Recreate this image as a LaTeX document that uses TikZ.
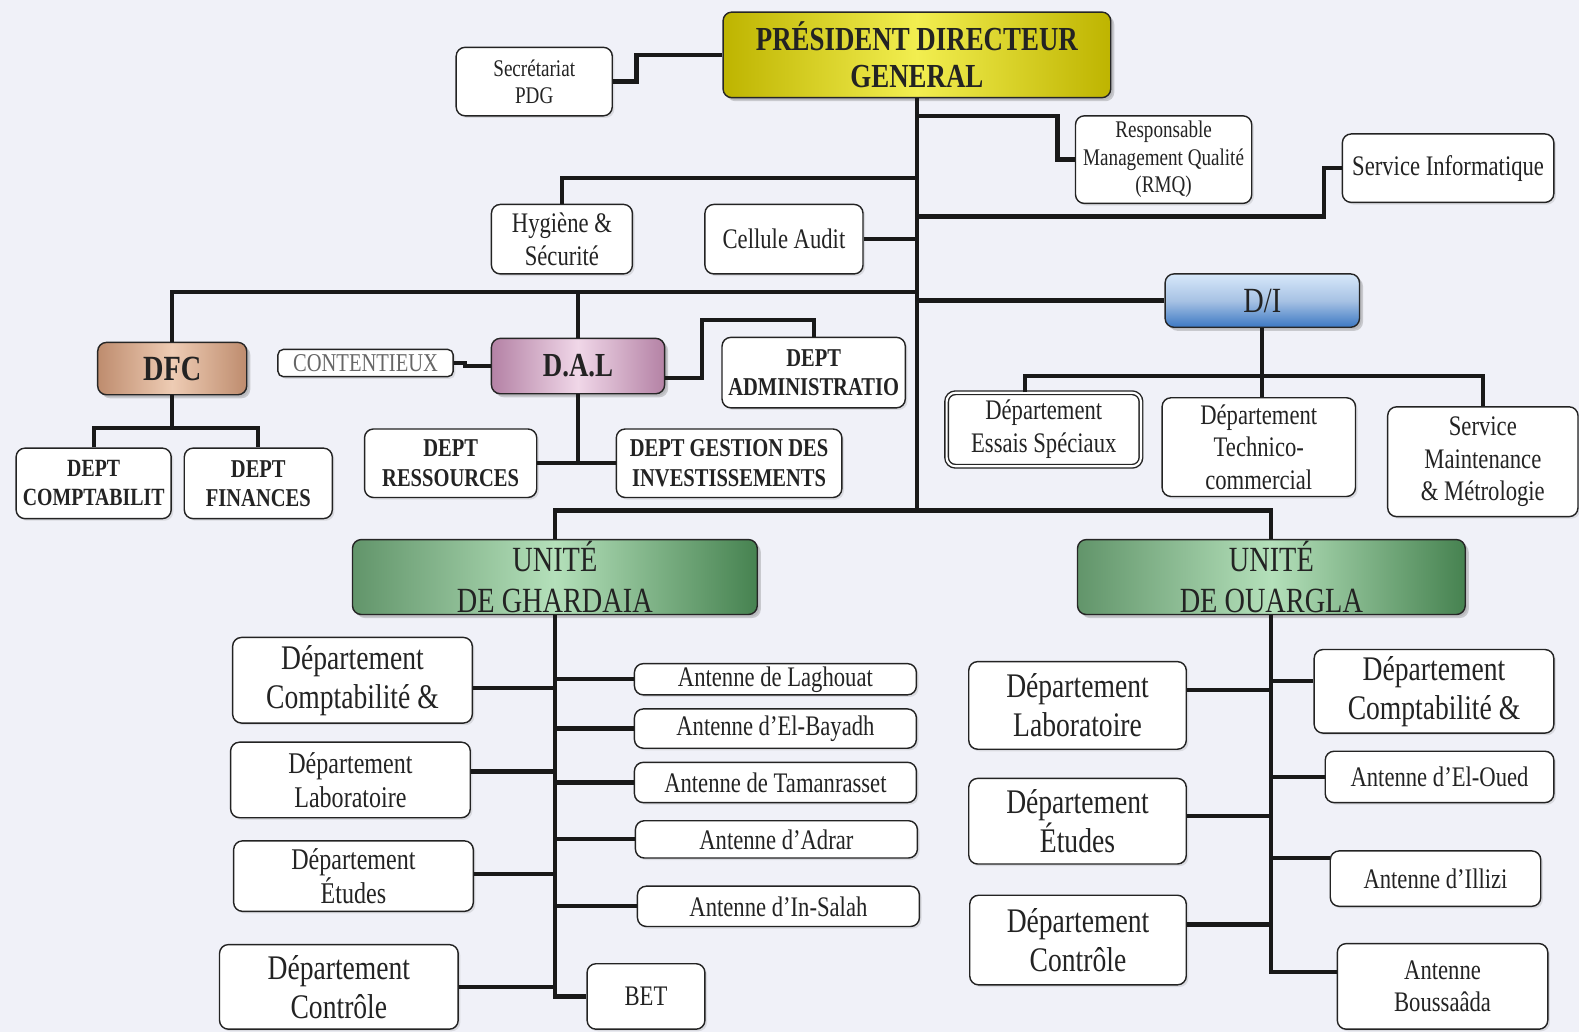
\documentclass[tikz,border=0pt]{standalone}
\usepackage{fontspec}
\setmainfont[FakeStretch=0.8]{Liberation Serif}
\usepackage{tikz}
\usetikzlibrary{shadows}
\definecolor{bg}{RGB}{240,241,248}
\definecolor{ink}{RGB}{35,35,35}
\definecolor{pdgdark}{RGB}{190,180,0}
\definecolor{pdglight}{RGB}{242,238,80}
\definecolor{dfcdark}{RGB}{190,140,110}
\definecolor{dfclight}{RGB}{238,204,180}
\definecolor{daldark}{RGB}{180,130,165}
\definecolor{dallight}{RGB}{240,215,232}
\definecolor{didark}{RGB}{60,120,195}
\definecolor{dilight}{RGB}{215,232,250}
\definecolor{undark}{RGB}{70,130,80}
\definecolor{unlight}{RGB}{180,224,186}
\tikzset{box/.style = {shape=rectangle, rounded corners=5pt, draw=ink, fill=white, line width=0.8pt, align=center, inner sep=1pt, text=ink, drop shadow={shadow xshift=1.2pt, shadow yshift=-1.2pt, opacity=0.2}}}
\tikzset{head/.style = {box, draw=black!85, drop shadow={shadow xshift=2pt, shadow yshift=-2pt, opacity=0.35}}}
\tikzset{edge/.style = {-, line width=2.4pt, black!90}}
\tikzset{wh/.style 2 args = {minimum width=#1*0.02cm, minimum height=#2*0.02cm}}
\tikzset{fa/.style = {font=\fontsize{13.5}{15.5}\selectfont}}
\tikzset{fb/.style = {font=\fontsize{16}{18.5}\selectfont}}
\tikzset{fc/.style = {font=\fontsize{17}{19}\selectfont}}
\tikzset{fd/.style = {font=\fontsize{19.5}{22}\selectfont}}
\tikzset{fe/.style = {font=\bfseries\fontsize{14.5}{16.5}\selectfont}}

\begin{document}
\begin{tikzpicture}[x=0.02cm, y=-0.02cm]
\useasboundingbox (0,0) rectangle (1568,1025);
\fill[bg] (0,0) rectangle (1568,1025);
% direction
\node[head, wh={385}{85}, left color=pdgdark, right color=pdgdark, middle color=pdglight, font=\bfseries\fontsize{19}{21}\selectfont] (pdg) at (910.5,54.5) {PRÉSIDENT DIRECTEUR\\GENERAL};
\node[box, wh={155}{68}, fa] (sec) at (530.5,81) {Secrétariat\\PDG};
\node[box, wh={175}{87}, fa] (rmq) at (1155.5,158.5) {Responsable\\Management Qualité\\(RMQ)};
\node[box, wh={210}{68}, fb] (si) at (1438,167) {Service Informatique};
\node[box, wh={140}{69}, fb] (hyg) at (558,237.5) {Hygiène \&\\Sécurité};
\node[box, wh={157}{69}, fb] (audit) at (778.5,237.5) {Cellule Audit};

% directions
\node[head, wh={148}{52}, left color=dfcdark, right color=dfcdark, middle color=dfclight, font=\bfseries\fontsize{20}{22}\selectfont] (dfc) at (171,366) {DFC};
\node[head, wh={172}{55}, left color=daldark, right color=daldark, middle color=dallight, font=\bfseries\fontsize{19}{22}\selectfont] (dal) at (574,363.5) {D.A.L};
\node[head, wh={193}{53}, top color=dilight, bottom color=didark, middle color=didark!45, font=\fontsize{20}{22}\selectfont] (di) at (1253.5,298.5) {D/I};
\node[box, wh={174}{27}, rounded corners=3pt, text=black!60, font=\fontsize{14.5}{16}\selectfont] (cont) at (363,360.5) {CONTENTIEUX};
\node[box, wh={182}{70}, fe] (adm) at (808,370) {DEPT\\ADMINISTRATIO};
\node[box, wh={171}{68}, fe] (res) at (447.5,460) {DEPT\\RESSOURCES};
\node[box, wh={224}{68}, fe] (gest) at (724,460) {DEPT GESTION DES\\INVESTISSEMENTS};
\node[box, wh={154}{70}, fe, font=\bfseries\fontsize{14}{16.5}\selectfont] (comp) at (93,480) {DEPT\\COMPTABILIT};
\node[box, wh={147}{70}, fe] (fin) at (256.5,480) {DEPT\\FINANCES};
\node[box, wh={193}{73}, fb, double, double distance=1.2pt] (ess) at (1036.5,426.5) {Département\\Essais Spéciaux};
\node[box, wh={192}{98}, fb] (tech) at (1250,444) {Département\\Technico-\\commercial};
\node[box, wh={189}{109}, fb] (maint) at (1472.5,458.5) {Service\\Maintenance\\\& Métrologie};

% unites
\node[head, wh={402}{74}, left color=undark!85, right color=undark, middle color=unlight, font=\fontsize{20}{23}\selectfont] (gh) at (551,573) {UNITÉ\\DE GHARDAIA};
\node[head, wh={385}{74}, left color=undark!85, right color=undark, middle color=unlight, font=\fontsize{20}{23}\selectfont] (oua) at (1262.5,573) {UNITÉ\\DE OUARGLA};

\node[box, wh={238}{85}, fd] (gcomp) at (350,675.5) {Département\\Comptabilité \&};
\node[box, wh={238}{75}, fc] (glab) at (348,774.5) {Département\\Laboratoire};
\node[box, wh={238}{70}, fc] (getu) at (351,870) {Département\\Études};
\node[box, wh={237}{84}, fd] (gctl) at (336.5,980) {Département\\Contrôle};
\node[box, wh={280}{31}, fb] (alag) at (770,674.5) {Antenne de Laghouat};
\node[box, wh={280}{39}, fb] (abay) at (770,723.5) {Antenne d'El-Bayadh};
\node[box, wh={280}{40}, fb] (atam) at (770,777) {Antenne de Tamanrasset};
\node[box, wh={280}{37}, fb] (aadr) at (771,833.5) {Antenne d'Adrar};
\node[box, wh={280}{40}, fb] (ains) at (773,900) {Antenne d'In-Salah};
\node[box, wh={117}{65}, fb] (bet) at (641.5,989.5) {BET};

\node[box, wh={216}{87}, fd] (olab) at (1070,700.5) {Département\\Laboratoire};
\node[box, wh={216}{85}, fd] (oetu) at (1070,815.5) {Département\\Études};
\node[box, wh={215}{89}, fd] (octl) at (1070.5,933.5) {Département\\Contrôle};
\node[box, wh={238}{83}, fd] (ocomp) at (1424,686.5) {Département\\Comptabilité \&};
\node[box, wh={227}{51}, fb] (aoued) at (1429.5,771.5) {Antenne d'El-Oued};
\node[box, wh={209}{55}, fb] (aill) at (1425.5,872.5) {Antenne d'Illizi};
\node[box, wh={209}{85}, fb] (abou) at (1432.5,979.5) {Antenne\\Boussaâda};

% liaisons
\coordinate (hub) at (910.5,507);
\draw[edge] (pdg.west) -- (632,54.5) |- (sec.east);
\draw[edge] (pdg.south) -- (hub);
\draw[edge] (gh.north) |- (hub) -| (oua.north);
\draw[edge] (pdg.south |- 0,115) -- (1050,115) |- (rmq.west);
\draw[edge] (pdg.south |- 0,215) -- (1315,215) |- (si.west);
\draw[edge] (pdg.south |- 0,177) -| (hyg.north);
\draw[edge] (audit.east) -- (audit.east -| pdg.south);
\draw[edge] (pdg.south |- 0,290) -| (dfc.north);
\draw[edge] (dal.north) -- (dal.north |- 0,290);
\draw[edge] (di.west) -- (di.west -| pdg.south);

\draw[edge] (dfc.south) -- (dfc.south |- 0,425);
\draw[edge] (comp.north) |- (dfc.south |- 0,425) -| (fin.north);
\draw[edge] (cont.east) -- (462,360.5) |- (dal.west);
\draw[edge] (dal.east |- 0,375) -| (697,318) -| (adm.north);
\draw[edge] (dal.south) -- (dal.south |- res.east);
\draw[edge] (res.east) -- (gest.west);
\draw[edge] (di.south) -- (di.south |- tech.north);
\draw[edge] (1018,0 |- ess.north) |- (di.south |- 0,373) -| (maint.north);

\draw[edge] (gh.south) |- (bet.west);
\draw[edge] (gcomp.east |- 0,683) -- (gh.south |- 0,683);
\draw[edge] (glab.east |- 0,766) -- (gh.south |- 0,766);
\draw[edge] (getu.east |- 0,868) -- (gh.south |- 0,868);
\draw[edge] (gctl.east |- 0,980) -- (gh.south |- 0,980);
\draw[edge] (gh.south |- alag.west) -- (alag.west);
\draw[edge] (gh.south |- abay.west) -- (abay.west);
\draw[edge] (gh.south |- atam.west) -- (atam.west);
\draw[edge] (gh.south |- aadr.west) -- (aadr.west);
\draw[edge] (gh.south |- ains.west) -- (ains.west);

\draw[edge] (oua.south) -- (oua.south |- 0,965) -- (abou.west |- 0,965);
\draw[edge] (olab.east |- 0,685) -- (oua.south |- 0,685);
\draw[edge] (oetu.east |- 0,810) -- (oua.south |- 0,810);
\draw[edge] (octl.east |- 0,918) -- (oua.south |- 0,918);
\draw[edge] (oua.south |- 0,676) -- (ocomp.west |- 0,676);
\draw[edge] (oua.south |- aoued.west) -- (aoued.west);
\draw[edge] (oua.south |- 0,852) -- (aill.west |- 0,852);
\end{tikzpicture}
\end{document}
